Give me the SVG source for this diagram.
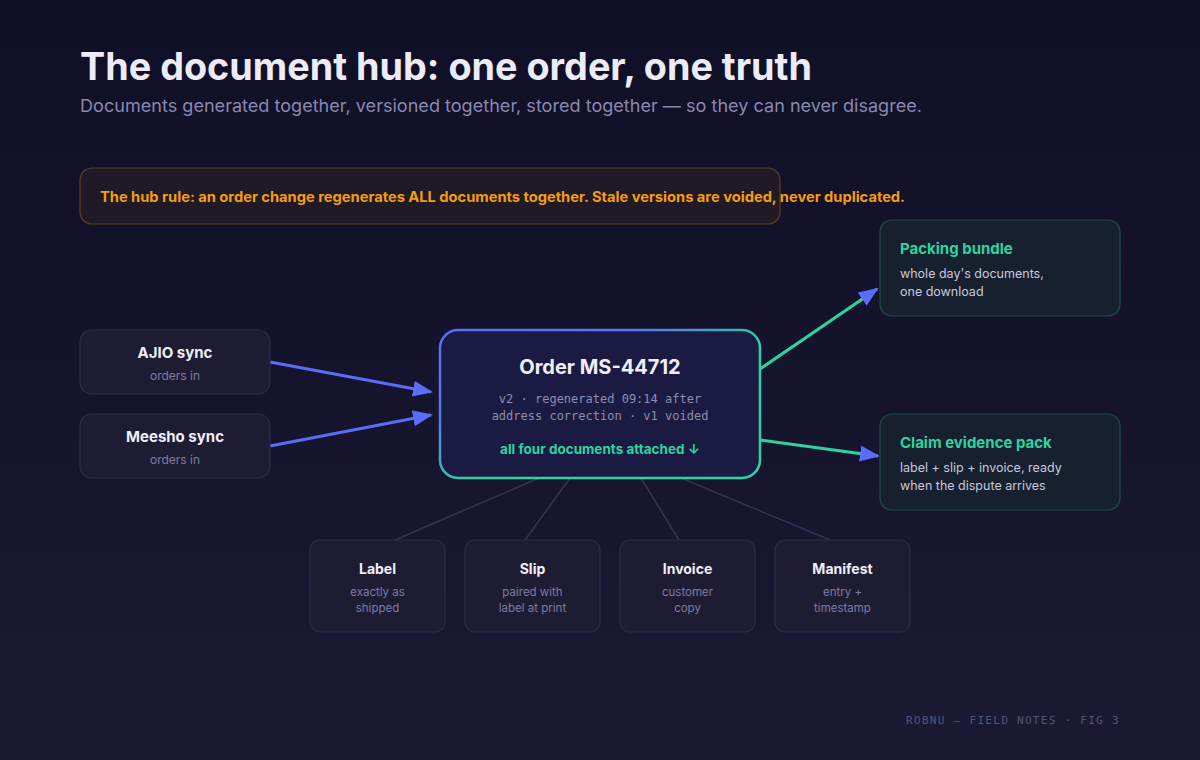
<svg xmlns="http://www.w3.org/2000/svg" width="1200" height="760" viewBox="0 0 1200 760">
<defs>
<linearGradient id="bg" x1="0" y1="0" x2="0" y2="1">
<stop offset="0" stop-color="#0f0f26"/>
<stop offset="1" stop-color="#1b1933"/>
</linearGradient>
<linearGradient id="hubStroke" x1="0" y1="0" x2="1" y2="1">
<stop offset="0" stop-color="#5b6cf9"/>
<stop offset="0.3" stop-color="#5278f0"/>
<stop offset="0.55" stop-color="#2fcfa6"/>
<stop offset="1" stop-color="#2dd4a0"/>
</linearGradient>
<marker id="arrow" markerUnits="userSpaceOnUse" markerWidth="20" markerHeight="16" viewBox="0 0 20 16" refX="18" refY="8" orient="auto">
<path d="M0,0 L20,8 L0,16 Z" fill="#5b6cf9"/>
</marker>
<style>
.t{font-family:Inter,"Noto Sans","Liberation Sans",sans-serif}
.m{font-family:"DejaVu Sans Mono","Liberation Mono",monospace}
.card{fill:#1e1c33;stroke:#2d2b4b;stroke-width:1.2}
.outcard{fill:#17202f;stroke:#1f4d4a;stroke-width:1.2}
.ttl{font-weight:700;fill:#f0eff8}
.sub{fill:#7e7ba3}
.green{fill:#2dd4a0;font-weight:700}
.body{fill:#c9c8dc}
.in{stroke:#5b6cf9;stroke-width:3;fill:none}
.out{stroke:#2dd4a0;stroke-width:3;fill:none}
.tie{stroke:#34335a;stroke-width:1.5;fill:none}
</style>
</defs>
<rect width="1200" height="760" fill="url(#bg)"/>
<g id="header">
<text class="t" x="80" y="80" font-size="38" font-weight="700" fill="#ecebf7" textLength="732" lengthAdjust="spacingAndGlyphs">The document hub: one order, one truth</text>
<text class="t" x="80" y="112" font-size="17.5" fill="#8a88b0" textLength="842" lengthAdjust="spacingAndGlyphs">Documents generated together, versioned together, stored together — so they can never disagree.</text>
</g>
<g id="rule">
<rect x="80" y="168" width="700" height="56" rx="12" fill="#1f1a26" stroke="#5a4021" stroke-width="1.2"/>
<text class="t" x="100" y="202" font-size="14" font-weight="700" fill="#f59e0b" textLength="805" lengthAdjust="spacingAndGlyphs">The hub rule: an order change regenerates ALL documents together. Stale versions are voided, never duplicated.</text>
</g>
<g id="connectors">
<line class="in" x1="270" y1="362" x2="431" y2="392" marker-end="url(#arrow)"/>
<line class="in" x1="270" y1="446" x2="431" y2="415" marker-end="url(#arrow)"/>
<line class="out" x1="760" y1="369" x2="877" y2="289" marker-end="url(#arrow)"/>
<line class="out" x1="760" y1="440" x2="878" y2="456" marker-end="url(#arrow)"/>
<line class="tie" x1="539" y1="478" x2="395" y2="540"/>
<line class="tie" x1="570" y1="478" x2="525" y2="540"/>
<line class="tie" x1="641" y1="478" x2="679" y2="540"/>
<line class="tie" x1="681" y1="478" x2="830" y2="540"/>
</g>
<g id="ajio">
<rect class="card" x="80" y="330" width="190" height="64" rx="12"/>
<text class="t ttl" x="175" y="358" font-size="15" text-anchor="middle">AJIO sync</text>
<text class="t sub" x="175" y="380" font-size="12" text-anchor="middle">orders in</text>
</g>
<g id="meesho">
<rect class="card" x="80" y="414" width="190" height="64" rx="12"/>
<text class="t ttl" x="175" y="442" font-size="15" text-anchor="middle">Meesho sync</text>
<text class="t sub" x="175" y="464" font-size="12" text-anchor="middle">orders in</text>
</g>
<g id="hub">
<rect x="440" y="330" width="320" height="148" rx="18" fill="#1b1a42" stroke="url(#hubStroke)" stroke-width="2.5"/>
<text class="t ttl" x="600" y="374" font-size="20" text-anchor="middle">Order MS-44712</text>
<text class="m" x="600" y="403" font-size="12" fill="#8e8cb0" text-anchor="middle">v2 · regenerated 09:14 after</text>
<text class="m" x="600" y="420" font-size="12" fill="#8e8cb0" text-anchor="middle">address correction · v1 voided</text>
<text class="t green" x="600" y="454" font-size="13.5" text-anchor="middle">all four documents attached ↓</text>
</g>
<g id="packing">
<rect class="outcard" x="880" y="220" width="240" height="96" rx="12"/>
<text class="t green" x="900" y="254" font-size="15">Packing bundle</text>
<text class="t body" x="900" y="278" font-size="12.5">whole day's documents,</text>
<text class="t body" x="900" y="296" font-size="12.5">one download</text>
</g>
<g id="claim">
<rect class="outcard" x="880" y="414" width="240" height="96" rx="12"/>
<text class="t green" x="900" y="448" font-size="15">Claim evidence pack</text>
<text class="t body" x="900" y="472" font-size="12.5">label + slip + invoice, ready</text>
<text class="t body" x="900" y="490" font-size="12.5">when the dispute arrives</text>
</g>
<g id="label">
<rect class="card" x="310" y="540" width="135" height="92" rx="10"/>
<text class="t ttl" x="377.5" y="574" font-size="14" text-anchor="middle">Label</text>
<text class="t sub" x="377.5" y="596" font-size="11.5" text-anchor="middle">exactly as</text>
<text class="t sub" x="377.5" y="612" font-size="11.5" text-anchor="middle">shipped</text>
</g>
<g id="slip">
<rect class="card" x="465" y="540" width="135" height="92" rx="10"/>
<text class="t ttl" x="532.5" y="574" font-size="14" text-anchor="middle">Slip</text>
<text class="t sub" x="532.5" y="596" font-size="11.5" text-anchor="middle">paired with</text>
<text class="t sub" x="532.5" y="612" font-size="11.5" text-anchor="middle">label at print</text>
</g>
<g id="invoice">
<rect class="card" x="620" y="540" width="135" height="92" rx="10"/>
<text class="t ttl" x="687.5" y="574" font-size="14" text-anchor="middle">Invoice</text>
<text class="t sub" x="687.5" y="596" font-size="11.5" text-anchor="middle">customer</text>
<text class="t sub" x="687.5" y="612" font-size="11.5" text-anchor="middle">copy</text>
</g>
<g id="manifest">
<rect class="card" x="775" y="540" width="135" height="92" rx="10"/>
<text class="t ttl" x="842.5" y="574" font-size="14" text-anchor="middle">Manifest</text>
<text class="t sub" x="842.5" y="596" font-size="11.5" text-anchor="middle">entry +</text>
<text class="t sub" x="842.5" y="612" font-size="11.5" text-anchor="middle">timestamp</text>
</g>
<g id="footer">
<text class="m" x="1120" y="724" font-size="11" fill="#55537a" letter-spacing="1.3" text-anchor="end">ROBNU — FIELD NOTES · FIG 3</text>
</g>
</svg>
